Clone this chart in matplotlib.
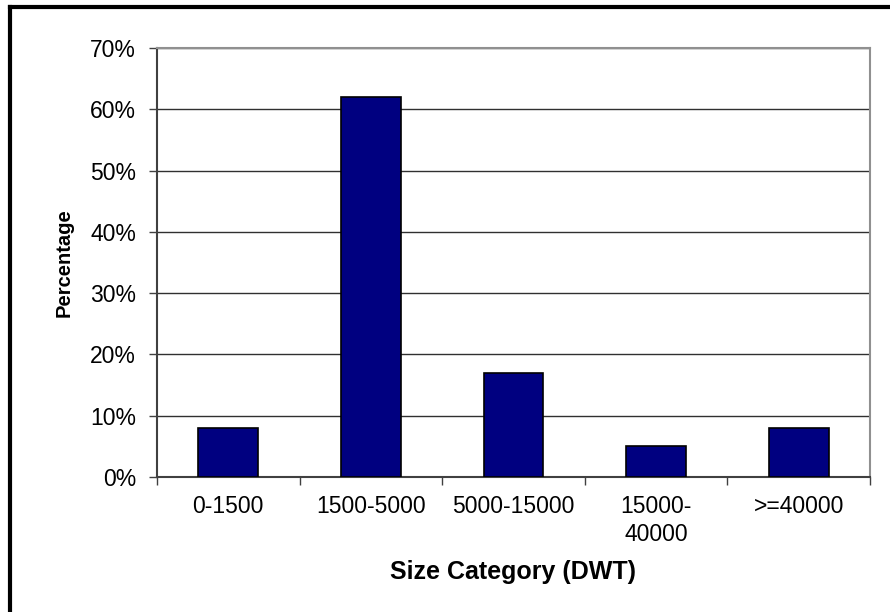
import numpy as np
import matplotlib.pyplot as plt
from matplotlib.lines import Line2D
from matplotlib.ticker import FuncFormatter, FixedLocator

plt.rcParams['font.family'] = ['Liberation Sans', 'DejaVu Sans']

# share of vessels per size class
categories = ['0-1500', '1500-5000', '5000-15000', '15000-\n40000', '>=40000']
percent = [8, 62, 17, 5, 8]

fig = plt.figure(figsize=(8.9, 6.12), dpi=100)
ax = fig.add_axes([157/890, 1 - 477/612, (870 - 157)/890, (477 - 48)/612])

x = np.arange(len(categories))
ax.bar(x, percent, width=0.42, color='#000080', edgecolor='black', linewidth=1.2, zorder=3)

ax.set_xlim(-0.5, len(categories) - 0.5)
ax.set_ylim(0, 70)
ax.set_yticks(np.arange(0, 71, 10))
ax.yaxis.set_major_formatter(FuncFormatter(lambda v, p: f'{v:.0f}%'))
ax.grid(axis='y', color='#303030', linewidth=1, zorder=0)

# category labels sit between the boundary ticks
ax.xaxis.set_major_locator(FixedLocator(np.arange(-0.5, len(categories), 1)))
ax.xaxis.set_minor_locator(FixedLocator(x))
ax.set_xticklabels([])
ax.set_xticklabels(categories, minor=True, fontsize=16.5, linespacing=1.3)
ax.tick_params(axis='x', which='minor', length=0, pad=13)
ax.tick_params(axis='x', which='major', length=6, width=1, color='#404040', direction='out')
ax.tick_params(axis='y', length=6, width=1, color='#404040', labelsize=16.5, pad=9)

for side in ['top', 'right']:
    ax.spines[side].set_color('#909090')
    ax.spines[side].set_linewidth(1.5)
for side in ['left', 'bottom']:
    ax.spines[side].set_color('#404040')
    ax.spines[side].set_linewidth(1.5)

ax.set_xlabel('Size Category (DWT)', fontsize=18, fontweight='bold', labelpad=10)
ax.set_ylabel('Percentage', fontsize=14.5, fontweight='bold', labelpad=12)

# outer chart frame
fig.add_artist(Line2D([10/890, 10/890], [0, 1 - 7/612], color='black', linewidth=3, transform=fig.transFigure))
fig.add_artist(Line2D([10/890, 1], [1 - 7/612, 1 - 7/612], color='black', linewidth=3, transform=fig.transFigure))

fig.savefig('out.png', dpi=100)
